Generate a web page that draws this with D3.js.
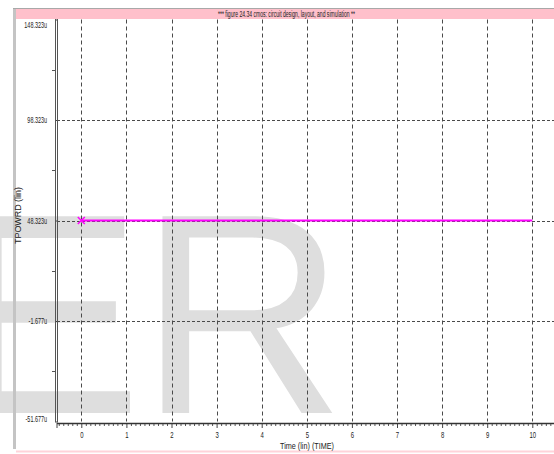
<!DOCTYPE html>
<html>
<head>
<meta charset="utf-8">
<script src="https://cdn.jsdelivr.net/npm/d3@7"></script>
<style>
  body { margin: 0; background: #fff; }
  svg { display: block; }
  text { font-family: "Liberation Sans", Arial, sans-serif; }
</style>
</head>
<body>
<svg id="chart" width="554" height="454"></svg>
<script>
// ---- data -------------------------------------------------------------
const chartTitle = "*** figure 24.34 cmos: circuit design, layout, and simulation **";
const xTitle = "Time (lin) (TIME)";
const yTitle = "TPOWRD (lin)";
const watermark = ["E", "R"];

// transient sweep (time) and the averaged power measurement, in µW
const timeValues = [0, 10];
const tpowrdValues = [48.323, 48.323];

const xTickValues = [0, 1, 2, 3, 4, 5, 6, 7, 8, 9, 10];
const yTickValues = [-51.677, -1.677, 48.323, 98.323, 148.323];
const yTickLabels = ["-51.677u", "-1.677u", "48.323u", "98.323u", "148.323u"];

// ---- layout -----------------------------------------------------------
const W = 554, H = 454;
const plotLeft = 57, plotRight = 554, plotTop = 19.5, plotBottom = 421.5;

const svg = d3.select("#chart");

const x = d3.scaleLinear().domain([0, 10]).range([81.3, 532.3]);
const y = d3.scaleLinear().domain([-51.677, 148.323]).range([plotBottom, plotTop]);

// background watermark lettering
const wm = svg.append("g").attr("fill", "#dedede");
wm.append("text").attr("x", -48.5).attr("y", 413).attr("font-size", 286).text(watermark[0]);
wm.append("text").attr("x", 139).attr("y", 413).attr("font-size", 286).text(watermark[1]);

// left window edge bar
svg.append("rect").attr("x", 13).attr("y", 8).attr("width", 3).attr("height", 441).attr("fill", "#c4c4c4");

// title strip
svg.append("line").attr("x1", 13).attr("x2", W).attr("y1", 8.5).attr("y2", 8.5)
  .attr("stroke", "#a8a8a8").attr("stroke-width", 1);
svg.append("rect").attr("x", 16).attr("y", 9).attr("width", W - 16).attr("height", 10).attr("fill", "#ffc0cb");
svg.append("text")
  .attr("x", 218).attr("y", 17)
  .attr("font-size", 8.5)
  .attr("textLength", 137)
  .attr("lengthAdjust", "spacingAndGlyphs")
  .attr("fill", "#222")
  .text(chartTitle);

// bottom pink rule
svg.append("line").attr("x1", 16).attr("x2", W).attr("y1", 451.5).attr("y2", 451.5)
  .attr("stroke", "#ffd3da").attr("stroke-width", 2);

// ---- grid -------------------------------------------------------------
const grid = svg.append("g").attr("stroke", "#4a4a4a").attr("stroke-width", 1);
grid.selectAll("line.vg").data(xTickValues).join("line")
  .attr("class", "vg")
  .attr("x1", d => Math.round(x(d)) + 0.5).attr("x2", d => Math.round(x(d)) + 0.5)
  .attr("y1", plotTop).attr("y2", plotBottom)
  .attr("stroke-dasharray", "4,3");
grid.selectAll("line.hg").data(yTickValues.slice(1, -1)).join("line")
  .attr("class", "hg")
  .attr("x1", plotLeft).attr("x2", plotRight)
  .attr("y1", d => Math.round(y(d)) + 0.5).attr("y2", d => Math.round(y(d)) + 0.5)
  .attr("stroke-dasharray", "3,2");

// ---- y axis -----------------------------------------------------------
const yAxis = d3.axisLeft(y).tickValues(yTickValues)
  .tickFormat((d, i) => yTickLabels[i]).tickSize(3).tickPadding(5);
const yg = svg.append("g").attr("transform", `translate(${plotLeft - 2},0)`).call(yAxis);
yg.select(".domain").remove();
yg.selectAll(".tick line").attr("stroke", "#444").attr("transform", "translate(3,0)");
const sx = 0.64;
yg.selectAll(".tick text")
  .attr("font-size", 8.5)
  .attr("fill", "#222")
  .attr("x", -8 / sx)
  .attr("transform", `scale(${sx},1)`)
  .attr("dy", (d, i) => i === yTickValues.length - 1 ? "0.95em" : (i === 0 ? "0.05em" : "0.32em"));
// midpoint marks between labelled levels
svg.append("g").selectAll("line").data(d3.pairs(yTickValues).map(p => (p[0] + p[1]) / 2)).join("line")
  .attr("x1", plotLeft - 5).attr("x2", plotLeft - 2)
  .attr("y1", d => Math.round(y(d)) + 0.5).attr("y2", d => Math.round(y(d)) + 0.5)
  .attr("stroke", "#555");

// double vertical axis rule
svg.append("line").attr("x1", 55.5).attr("x2", 55.5).attr("y1", plotTop - 0.5).attr("y2", 422)
  .attr("stroke", "#555");
svg.append("line").attr("x1", 57.5).attr("x2", 57.5).attr("y1", plotTop - 0.5).attr("y2", 422)
  .attr("stroke", "#555");

// ---- x axis -----------------------------------------------------------
const minorTicks = d3.range(-5, 105).map(v => v / 10).filter(v => Math.abs(v - Math.round(v)) > 1e-6);
const xMinor = d3.axisBottom(x).tickValues(minorTicks).tickSize(2).tickFormat("");
const xm = svg.append("g").attr("transform", "translate(0,424)").call(xMinor);
xm.select(".domain").remove();
xm.selectAll(".tick line").attr("stroke", "#555");

const xAxis = d3.axisBottom(x).tickValues(xTickValues).tickFormat(d3.format("d")).tickSize(4).tickPadding(4);
const xg = svg.append("g").attr("transform", "translate(0,424)").call(xAxis);
xg.select(".domain").remove();
xg.selectAll(".tick line").attr("stroke", "#444");
xg.selectAll(".tick text")
  .attr("font-size", 8.5)
  .attr("fill", "#222")
  .attr("transform", "scale(0.7,1)")
  .attr("x", 0);
// scale is applied about the tick origin, so labels stay centred on each tick

svg.append("line").attr("x1", plotLeft).attr("x2", W).attr("y1", 423.5).attr("y2", 423.5)
  .attr("stroke", "#333").attr("stroke-width", 1.5);
svg.append("line").attr("x1", plotLeft).attr("x2", plotLeft).attr("y1", 423).attr("y2", 428)
  .attr("stroke", "#444");

// axis titles
svg.append("text")
  .attr("x", 280).attr("y", 449)
  .attr("font-size", 8.5)
  .attr("textLength", 54)
  .attr("lengthAdjust", "spacingAndGlyphs")
  .attr("fill", "#222")
  .text(xTitle);
svg.append("text")
  .attr("transform", "translate(21,244) rotate(-90)")
  .attr("font-size", 8.5)
  .attr("textLength", 57)
  .attr("lengthAdjust", "spacingAndGlyphs")
  .attr("fill", "#222")
  .text(yTitle);

// ---- series -----------------------------------------------------------
const series = timeValues.map((t, i) => ({ t, v: tpowrdValues[i] }));
svg.append("path")
  .datum(series)
  .attr("fill", "none")
  .attr("stroke", "#ff00ff")
  .attr("stroke-width", 2)
  .attr("d", d3.line().x(d => x(d.t)).y(d => y(d.v)));

// start-point marker
const m = series[0];
const mx = x(m.t), my = y(m.v), r = 3.5;
svg.append("path")
  .attr("d", `M${mx - r},${my - r}L${mx + r},${my + r}M${mx - r},${my + r}L${mx + r},${my - r}`)
  .attr("stroke", "#ff00ff").attr("stroke-width", 1.5).attr("fill", "none");
</script>
</body>
</html>
